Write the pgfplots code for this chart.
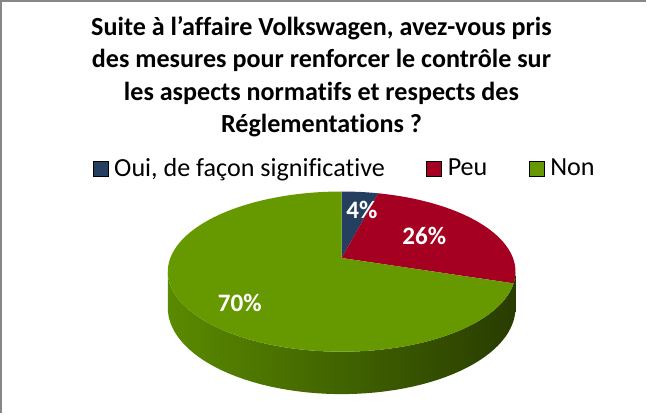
\documentclass[border=0pt]{standalone}
\usepackage{pgfplots}
\pgfplotsset{compat=1.18}
\usepackage{pgfplotstable}
\usepackage{fontspec}
\setmainfont{Carlito}[Ligatures={NoCommon}]
\definecolor{cBlue}{HTML}{243F60}
\definecolor{cRed}{HTML}{A50021}
\definecolor{cGreen}{HTML}{669900}
\definecolor{sideL}{HTML}{5A8A00}
\definecolor{sideM}{HTML}{3E6000}
\definecolor{sideR}{HTML}{283C00}
\definecolor{frame}{HTML}{878787}

% share (%), label position (px)
\pgfplotstableread{
label value lx ly
Oui 4 365 212
Peu 26 427 238
Non 70 244 305
}\piedata

\begin{document}
\begin{tikzpicture}[declare function={
 pieX(\t)=345+170*cos(\t)/(1+0.17*sin(\t));
 pieY(\t)=260-77.2*sin(\t)/(1+0.17*sin(\t));
 pieB(\t)=260+(34.9-77.2*sin(\t))/(1+0.17*sin(\t));
}]
\pgfplotstablegetelem{0}{value}\of\piedata \pgfmathsetmacro\vA{\pgfplotsretval}
\pgfplotstablegetelem{1}{value}\of\piedata \pgfmathsetmacro\vB{\pgfplotsretval}
\pgfplotstablegetelem{2}{value}\of\piedata \pgfmathsetmacro\vC{\pgfplotsretval}
\pgfplotstablegetelem{0}{lx}\of\piedata \pgfmathsetmacro\lxA{\pgfplotsretval}
\pgfplotstablegetelem{1}{lx}\of\piedata \pgfmathsetmacro\lxB{\pgfplotsretval}
\pgfplotstablegetelem{2}{lx}\of\piedata \pgfmathsetmacro\lxC{\pgfplotsretval}
\pgfplotstablegetelem{0}{ly}\of\piedata \pgfmathsetmacro\lyA{\pgfplotsretval}
\pgfplotstablegetelem{1}{ly}\of\piedata \pgfmathsetmacro\lyB{\pgfplotsretval}
\pgfplotstablegetelem{2}{ly}\of\piedata \pgfmathsetmacro\lyC{\pgfplotsretval}
\pgfmathsetmacro\sA{90}
\pgfmathsetmacro\eA{\sA-3.6*\vA}
\pgfmathsetmacro\eB{\eA-3.6*\vB}
\pgfmathsetmacro\eC{\eB-3.6*\vC}
\begin{axis}[
  scale only axis, width=647bp, height=414bp,
  xmin=0, xmax=647, ymin=0, ymax=414, y dir=reverse,
  axis lines=none, clip=false,
  legend columns=3,
  legend cell align=left,
  legend image code/.code={\fill[#1] (0bp,-7.5bp) rectangle (15bp,7.5bp);},
  legend style={draw=none, fill=none, inner sep=0pt,
    at={(axis cs:347,171)}, anchor=center,
    nodes={inner sep=0pt},
    font=\fontsize{26}{30}\selectfont,
    /tikz/every odd column/.append style={column sep=6bp},
    /tikz/every even column/.append style={column sep=41bp}},
]
\addlegendimage{fill=cBlue}
\addlegendentry{Oui, de façon significative}
\addlegendimage{fill=cRed}
\addlegendentry{Peu}
\addlegendimage{fill=cGreen}
\addlegendentry{Non}

% frame
\draw[frame, line width=2bp] (7,414) -- (7,5) -- (647,5);

% title
\node[anchor=north, align=center, inner sep=0pt,
      font=\fontsize{26}{32.4}\selectfont\bfseries] at (axis cs:325,20)
  {Suite à l’affaire Volkswagen, avez-vous pris\\des mesures pour renforcer le contrôle sur\\les aspects normatifs et respects des\\Réglementations~?};

% side of the pie (front)
\shade[left color=sideL, middle color=sideM, right color=sideR]
  plot[domain=189.79:350.21, samples=60, variable=\t] ({pieX(\t)},{pieY(\t)})
  -- plot[domain=350.21:189.79, samples=60, variable=\t] ({pieX(\t)},{pieB(\t)})
  -- cycle;

% top faces
\fill[cBlue] (axis cs:345,260) -- plot[domain=\sA:\eA, samples=10, variable=\t] ({pieX(\t)},{pieY(\t)}) -- cycle;
\fill[cRed] (axis cs:345,260) -- plot[domain=\eA:\eB, samples=50, variable=\t] ({pieX(\t)},{pieY(\t)}) -- cycle;
\fill[cGreen] (axis cs:345,260) -- plot[domain=\eB:\eC, samples=120, variable=\t] ({pieX(\t)},{pieY(\t)}) -- cycle;

% data labels
\node[text=white, font=\fontsize{25}{28}\selectfont\bfseries] at (axis cs:\lxA,\lyA) {4\%};
\node[text=white, font=\fontsize{25}{28}\selectfont\bfseries] at (axis cs:\lxB,\lyB) {26\%};
\node[text=white, font=\fontsize{25}{28}\selectfont\bfseries] at (axis cs:\lxC,\lyC) {70\%};
\end{axis}
\end{tikzpicture}
\end{document}
